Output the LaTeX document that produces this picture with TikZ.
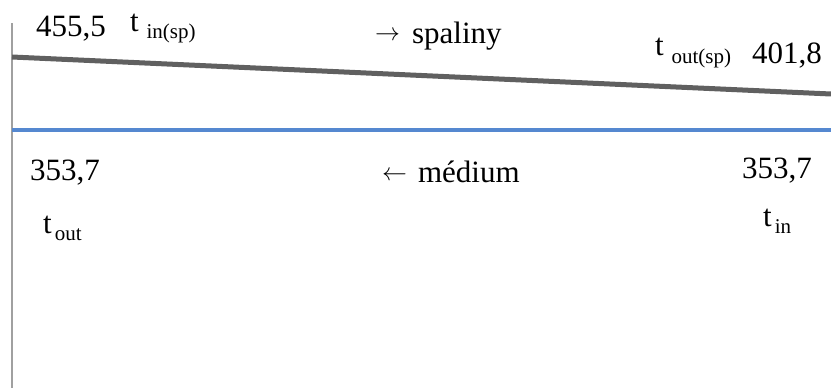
\documentclass[tikz,border=0pt]{standalone}
\usepackage{fontspec}
\setmainfont{Liberation Serif}
\definecolor{spgray}{RGB}{96,96,96}
\definecolor{medblue}{RGB}{85,136,208}
\definecolor{axgray}{RGB}{160,160,160}
\newcommand{\bigtxt}{\fontsize{31}{36}\selectfont}
\newcommand{\subtxt}[1]{\raisebox{-7pt}{\fontsize{21}{24}\selectfont #1}}
\newcommand{\flowarr}[1]{\raisebox{2pt}{\fontsize{23}{24}\selectfont$#1$}}
\tikzset{
  lbl/.style={font=\bigtxt, inner sep=0pt, anchor=base west},
}
\begin{document}
\begin{tikzpicture}[x=1pt, y=-1pt]
        \useasboundingbox (0, 0) rectangle (831, 388);
        \coordinate (axtop) at (12, 23);
        \coordinate (axbot) at (12, 388);
        \draw[axgray, line width=1.5pt] (axtop) -- (axbot);
        \coordinate (spin) at (12, 57);
        \coordinate (spout) at (831, 94);
        \draw[spgray, line width=5pt] (spin) -- (spout);
        \coordinate (medin) at (831, 130);
        \coordinate (medout) at (12, 130);
        \draw[medblue, line width=4pt] (medout) -- (medin);
        % spaliny
        \node[lbl] (vinsp) at (36, 36) {455,5};
        \node[lbl] (tinsp) at (130, 31) {t \subtxt{in(sp)}};
        \node[lbl] (spaliny) at (375, 43) {\flowarr{\rightarrow}\hspace{12pt}spaliny};
        \node[lbl] (toutsp) at (655, 56) {t \subtxt{out(sp)}};
        \node[lbl] (voutsp) at (752, 63) {401,8};
        % medium
        \node[lbl] (vout) at (30, 180) {353,7};
        \node[lbl] (medium) at (382, 182) {\flowarr{\leftarrow}\hspace{11pt}médium};
        \node[lbl] (vin) at (742, 178) {353,7};
        \node[lbl] (tout) at (43, 233) {t\hspace{3pt}\subtxt{out}};
        \node[lbl] (tin) at (763, 226) {t\hspace{3pt}\subtxt{in}};
    \end{tikzpicture}
\end{document}
